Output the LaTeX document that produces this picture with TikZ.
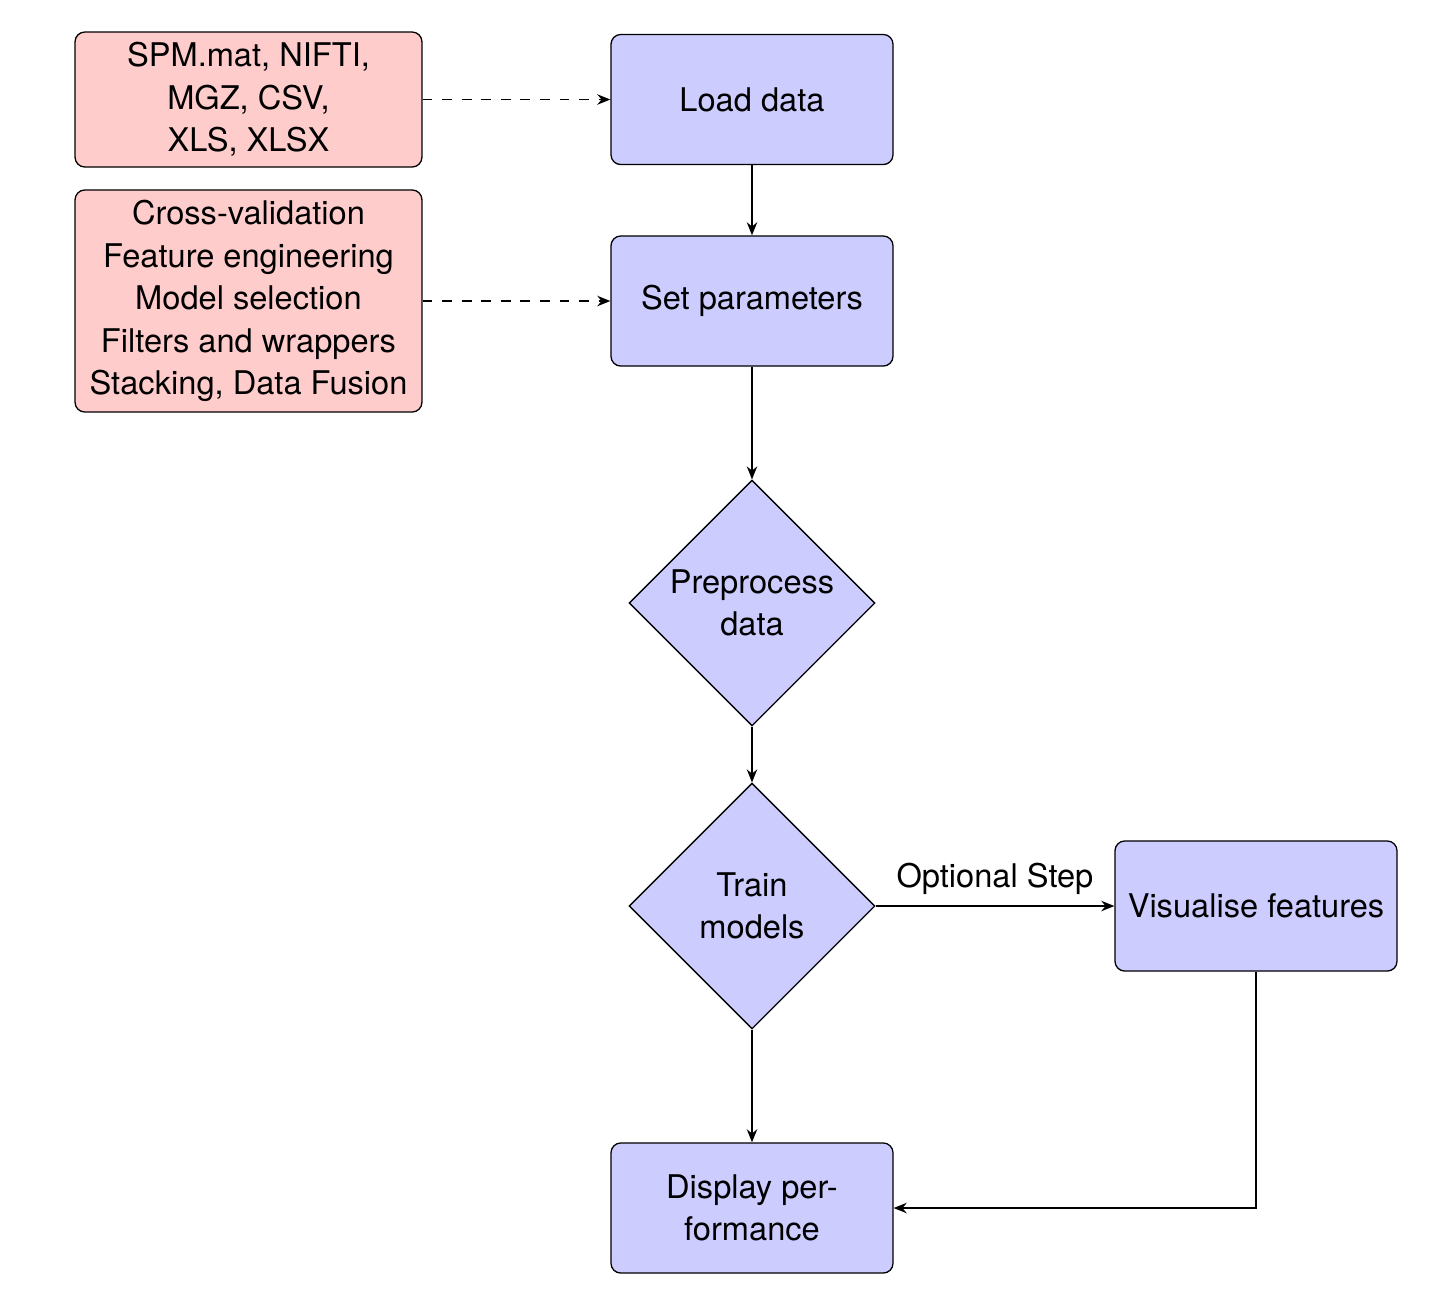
\documentclass[tikz,border=0pt]{standalone}
\usepackage{fontspec}
\setmainfont{TeX Gyre Heros}
\usetikzlibrary{shapes.geometric,arrows.meta}

\begin{document}
\begin{tikzpicture}[
    x=0.3067pt, y=-0.3067pt,
    font=\fontsize{10}{13}\selectfont,
    process/.style={draw, rounded corners=3pt, fill=blue!20, align=center,
                    minimum width=86.5pt, minimum height=39.9pt, inner sep=2pt},
    source/.style={draw, rounded corners=3pt, fill=red!20, align=center,
                   minimum width=106.4pt, inner sep=2pt},
    decision/.style={draw, diamond, fill=blue!20, align=center,
                     minimum width=75.4pt, minimum height=75.4pt, inner sep=0pt},
    flow/.style={-{Stealth[length=4pt,width=3.2pt]}, line width=0.4pt},
    feed/.style={flow, dashed},
]
  \useasboundingbox (0,0) rectangle (1436,1308);

  % input sources and settings
  \node[source, minimum height=41.4pt] (formats) at (248.5,99.5)
    {SPM.mat, NIFTI,\\MGZ, CSV,\\XLS, XLSX};
  \node[source, minimum height=68.1pt] (options) at (248.5,301)
    {Cross-validation\\Feature engineering\\Model selection\\Filters and wrappers\\Stacking, Data Fusion};

  % main pipeline
  \node[process] (load) at (752,99.5) {Load data};
  \node[process] (params) at (752,301) {Set parameters};
  \node[decision] (prep) at (752,603) {Preprocess\\data};
  \node[decision] (train) at (752,906) {Train\\models};
  \node[process] (vis) at (1256,906) {Visualise features};
  \node[process] (perf) at (752,1208) {Display per-\\formance};

  % connectors
  \draw[feed] (formats.east) -- (load.west);
  \draw[feed] (options.east) -- (params.west);
  \draw[flow] (load) -- (params);
  \draw[flow] (params) -- (prep);
  \draw[flow] (prep) -- (train);
  \draw[flow] (train) -- (perf);
  \draw[flow] (train.east) -- node[above] (opt) {Optional Step} (vis.west);
  \draw[flow] (vis.south) |- (perf.east);
\end{tikzpicture}
\end{document}
